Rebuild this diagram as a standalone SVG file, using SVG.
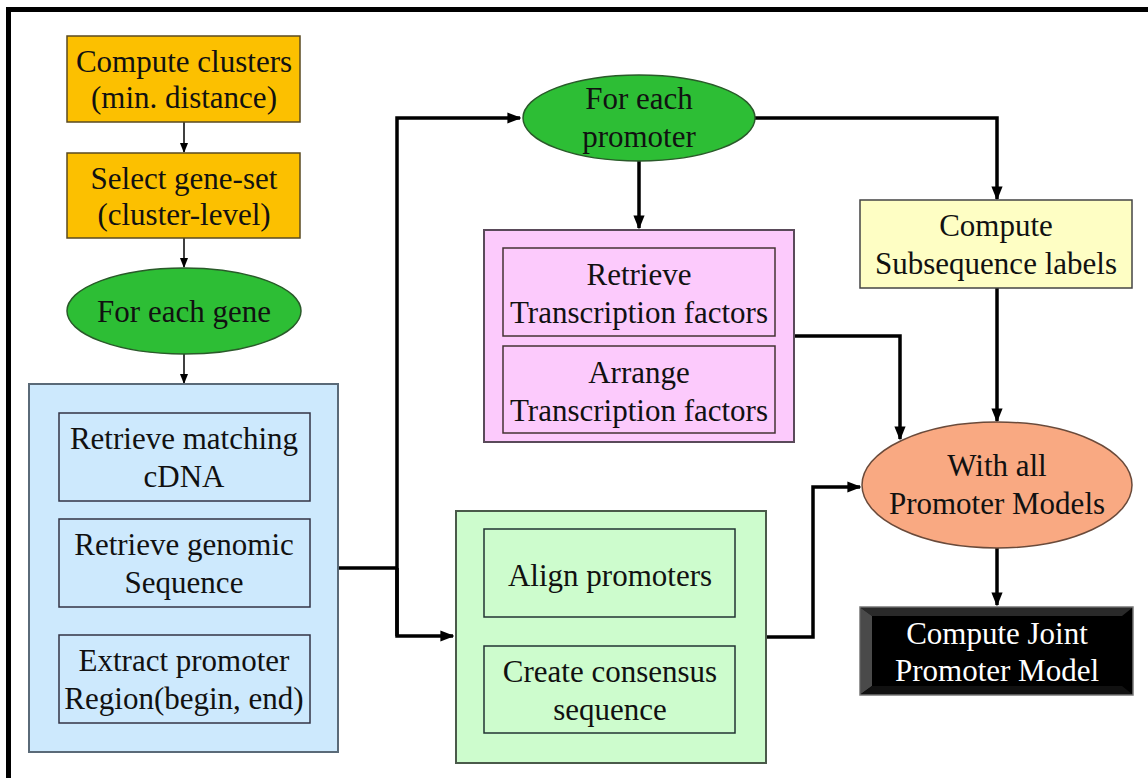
<svg xmlns="http://www.w3.org/2000/svg" width="1148" height="778" viewBox="0 0 1148 778" font-family="Liberation Serif, Times New Roman, serif">
<defs>
<style>
text{font-size:31px;text-anchor:middle;fill:#111}
.c{stroke:#000;stroke-width:3.5;fill:none}
.t{stroke:#000;stroke-width:1.5;fill:none}
.ob{stroke:#5a4a20;stroke-width:1.5}
</style>
<marker id="ah" viewBox="0 0 10 10" refX="9" refY="5" markerWidth="4" markerHeight="4" orient="auto" markerUnits="strokeWidth"><path d="M0,1 L10,5 L0,9 z" fill="#000"/></marker>
<marker id="as" viewBox="0 0 10 10" refX="9" refY="5" markerWidth="7" markerHeight="7" orient="auto" markerUnits="strokeWidth"><path d="M0,1 L10,5 L0,9 z" fill="#000"/></marker>
</defs>
<rect width="1148" height="778" fill="#fff"/>
<path d="M8.5,778 V9.5 H1148" fill="none" stroke="#000" stroke-width="5"/>

<g id="connectors">
<line class="t" x1="184" y1="122" x2="184" y2="152" marker-end="url(#as)"/>
<line class="t" x1="184" y1="238" x2="184" y2="267" marker-end="url(#as)"/>
<line class="t" x1="184" y1="354" x2="184" y2="383" marker-end="url(#as)"/>
<line class="t" x1="184" y1="501" x2="184" y2="518" marker-end="url(#as)"/>
<line class="t" x1="184" y1="607" x2="184" y2="634" marker-end="url(#as)"/>
<line class="t" x1="610" y1="617" x2="610" y2="645" marker-end="url(#as)"/>
<polyline class="c" points="338,568 397,568"/>
<polyline class="c" points="397,636 397,118 520,118" marker-end="url(#ah)"/>
<polyline class="c" points="397,568 397,636 453,636" marker-end="url(#ah)"/>
<polyline class="c" points="639,160 639,228" marker-end="url(#ah)"/>
<polyline class="c" points="755,118 997,118 997,199" marker-end="url(#ah)"/>
<polyline class="c" points="794,336 900,336 900,439" marker-end="url(#ah)"/>
<polyline class="c" points="997,288 997,421" marker-end="url(#ah)"/>
<polyline class="c" points="766,637 813,637 813,487 860,487" marker-end="url(#ah)"/>
<polyline class="c" points="997,548 997,605" marker-end="url(#ah)"/>
</g>

<g id="compute-clusters">
<rect class="ob" x="67" y="36" width="233" height="86" fill="#FCC000"/>
<text x="184" y="72">Compute clusters</text>
<text x="184" y="108">(min. distance)</text>
</g>
<g id="select-gene-set">
<rect class="ob" x="67" y="153" width="233" height="85" fill="#FCC000"/>
<text x="184" y="189">Select gene-set</text>
<text x="184" y="225">(cluster-level)</text>
</g>
<g id="for-each-gene">
<ellipse cx="184" cy="311" rx="117" ry="43" fill="#2DBE35" stroke="#2a5a2a" stroke-width="1.5"/>
<text x="184" y="322">For each gene</text>
</g>

<g id="gene-block">
<rect x="29" y="384" width="309" height="368" fill="#CDE9FD" stroke="#5a6a78" stroke-width="2"/>
<g id="retrieve-cdna">
<rect x="59" y="413" width="251" height="88" fill="#CDE9FD" stroke="#334" stroke-width="1.5"/>
<text x="184" y="449">Retrieve matching</text>
<text x="184" y="487">cDNA</text>
</g>
<g id="retrieve-genomic">
<rect x="59" y="519" width="251" height="88" fill="#CDE9FD" stroke="#334" stroke-width="1.5"/>
<text x="184" y="555">Retrieve genomic</text>
<text x="184" y="593">Sequence</text>
</g>
<g id="extract-promoter">
<rect x="59" y="635" width="251" height="88" fill="#CDE9FD" stroke="#334" stroke-width="1.5"/>
<text x="184" y="671">Extract promoter</text>
<text x="184" y="709">Region(begin, end)</text>
</g>
</g>

<g id="for-each-promoter">
<ellipse cx="639" cy="118" rx="116" ry="43" fill="#2DBE35" stroke="#2a5a2a" stroke-width="1.5"/>
<text x="639" y="109">For each</text>
<text x="639" y="147">promoter</text>
</g>

<g id="tf-block">
<rect x="484" y="230" width="310" height="212" fill="#FCCAFC" stroke="#5a4a5a" stroke-width="2"/>
<g id="retrieve-tf">
<rect x="503" y="248" width="272" height="88" fill="#FCCAFC" stroke="#433" stroke-width="1.5"/>
<text x="639" y="285">Retrieve</text>
<text x="639" y="323">Transcription factors</text>
</g>
<g id="arrange-tf">
<rect x="503" y="346" width="272" height="87" fill="#FCCAFC" stroke="#433" stroke-width="1.5"/>
<text x="639" y="383">Arrange</text>
<text x="639" y="421">Transcription factors</text>
</g>
</g>

<g id="subsequence-labels">
<rect x="860" y="200" width="272" height="88" fill="#FEFEC4" stroke="#444" stroke-width="1.5"/>
<text x="996" y="236">Compute</text>
<text x="996" y="274">Subsequence labels</text>
</g>

<g id="with-all">
<ellipse cx="997" cy="485" rx="135" ry="63" fill="#F9A982" stroke="#6a4a3a" stroke-width="1.5"/>
<text x="997" y="476">With all</text>
<text x="997" y="514">Promoter Models</text>
</g>

<g id="consensus-block">
<rect x="456" y="511" width="310" height="252" fill="#CDFCCD" stroke="#4a5a4a" stroke-width="2"/>
<g id="align-promoters">
<rect x="484" y="529" width="251" height="88" fill="#CDFCCD" stroke="#233" stroke-width="1.5"/>
<text x="610" y="586">Align promoters</text>
</g>
<g id="create-consensus">
<rect x="484" y="646" width="251" height="87" fill="#CDFCCD" stroke="#233" stroke-width="1.5"/>
<text x="610" y="682">Create consensus</text>
<text x="610" y="720">sequence</text>
</g>
</g>

<g id="joint-model">
<rect x="860" y="607" width="273" height="88" fill="#000" stroke="#777" stroke-width="1.5"/>
<polygon points="861,608 1132,608 1122,616 872,616" fill="#2a2a2a"/>
<polygon points="861,608 872,616 872,686 861,694" fill="#4a4a4a"/>
<polygon points="861,694 872,686 1122,686 1132,694" fill="#111"/>
<text x="997" y="644" style="fill:#fff">Compute Joint</text>
<text x="997" y="681" style="fill:#fff">Promoter Model</text>
</g>
</svg>
